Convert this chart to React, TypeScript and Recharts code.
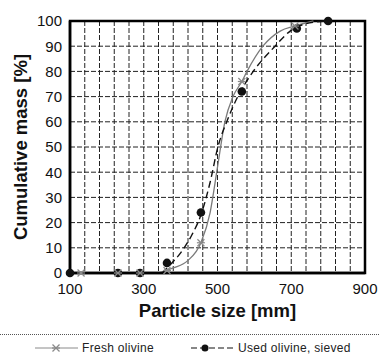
import {
  ComposedChart,
  Line,
  Scatter,
  XAxis,
  YAxis,
  CartesianGrid,
  ReferenceArea,
  Legend,
} from "recharts";

// markers (sieve sizes)
const freshX = [130, 230, 290, 363, 455, 566, 710];
const freshY = [0, 0, 0, 1, 12, 76, 98];
const usedX = [100, 230, 290, 363, 455, 566, 715, 800];
const usedY = [0, 0, 0, 4, 24, 72, 97, 100];

// fitted curves
const freshFitX = [340, 380, 420, 455, 480, 500, 520, 542, 566, 580, 623, 670, 710, 760];
const freshFitY = [0, 2, 5, 12, 24, 42, 60, 70, 76, 80, 90, 96, 98, 100];
const usedFitX = [350, 370, 400, 430, 455, 480, 501, 525, 555, 566, 597, 656, 697, 720, 790];
const usedFitY = [0, 3, 8, 15, 23, 36, 50, 60, 70, 73, 80, 90, 96, 98, 100];

const xTicks = [100, 140, 180, 220, 260, 300, 340, 380, 420, 460, 500, 540, 580, 620, 660, 700, 740, 780, 820, 860, 900];
const xLabels = [100, 300, 500, 700, 900];
const yTicks = [0, 10, 20, 30, 40, 50, 60, 70, 80, 90, 100];

const zip = (xs: number[], ys: number[]) => xs.map((x, i) => ({ x, y: ys[i] }));

const fresh = zip(freshX, freshY);
const used = zip(usedX, usedY);
const freshFit = zip(freshFitX, freshFitY);
const usedFit = zip(usedFitX, usedFitY);

const FONT = "'Liberation Sans', Arial, sans-serif";

const Star = (props: any) => {
  const { cx, cy } = props;
  const r = 3.5;
  return (
    <g stroke="#8a8a8a" strokeWidth={1.2}>
      <line x1={cx - r} y1={cy - r} x2={cx + r} y2={cy + r} />
      <line x1={cx - r} y1={cy + r} x2={cx + r} y2={cy - r} />
      <line x1={cx - r - 0.5} y1={cy} x2={cx + r + 0.5} y2={cy} />
    </g>
  );
};

const Dot = (props: any) => {
  const { cx, cy } = props;
  return <circle cx={cx} cy={cy} r={4.3} fill="#111" />;
};

const LegendBox = () => (
  <div style={{ fontFamily: FONT, fontSize: 12, color: "#222", width: 379 }}>
    <div style={{ borderTop: "1px dotted #555", width: 379, marginBottom: 6 }} />
    <div style={{ display: "flex", alignItems: "center", height: 14, whiteSpace: "nowrap" }}>
      <svg width={43} height={10} style={{ marginLeft: 35 }}>
        <line x1={0} y1={5} x2={43} y2={5} stroke="#8a8a8a" strokeWidth={1} />
        <Star cx={21} cy={5} />
      </svg>
      <span style={{ marginLeft: 4, letterSpacing: 0.3 }}>Fresh olivine</span>
      <svg width={42} height={10} style={{ marginLeft: 37 }}>
        <line x1={0} y1={5} x2={42} y2={5} stroke="#111" strokeWidth={1.2} strokeDasharray="6 3" />
        <circle cx={14} cy={5} r={3.5} fill="#111" />
      </svg>
      <span style={{ marginLeft: 5, letterSpacing: 0.3 }}>Used olivine, sieved</span>
    </div>
  </div>
);

export default function App() {
  return (
    <div style={{ position: "absolute", left: 0, top: 0, width: 379, height: 355, background: "#fff" }}>
      <ComposedChart
        width={379}
        height={355}
        margin={{ top: 21, right: 14, left: 0, bottom: 0 }}
      >
        <CartesianGrid stroke="#222" strokeDasharray="5 2" strokeWidth={1} />
        <XAxis
          type="number"
          dataKey="x"
          domain={[100, 900]}
          ticks={xTicks}
          interval={0}
          tickFormatter={(v: number) => (xLabels.includes(v) ? String(v) : "")}
          tickLine={false}
          tickSize={0}
          tickMargin={10}
          axisLine={{ stroke: "#000", strokeWidth: 2.5 }}
          tick={{ fill: "#111", fontSize: 15, fontFamily: FONT }}
          height={61}
          label={{
            value: "Particle size [mm]",
            position: "insideTop",
            offset: 31,
            fill: "#111",
            fontSize: 18.5,
            fontWeight: "bold",
            fontFamily: FONT,
          }}
        />
        <YAxis
          type="number"
          dataKey="y"
          domain={[0, 100]}
          ticks={yTicks}
          interval={0}
          tickLine={false}
          tickSize={0}
          tickMargin={8}
          axisLine={{ stroke: "#000", strokeWidth: 2.5 }}
          tick={{ fill: "#111", fontSize: 15, fontFamily: FONT }}
          width={70}
          label={{
            value: "Cumulative mass [%]",
            angle: -90,
            position: "insideLeft",
            offset: 20,
            style: { textAnchor: "middle" },
            fill: "#111",
            fontSize: 18.5,
            fontWeight: "bold",
            fontFamily: FONT,
          }}
        />
        <ReferenceArea
          x1={100}
          x2={900}
          y1={0}
          y2={100}
          fill="none"
          stroke="#000"
          strokeWidth={2.5}
        />
        <Line
          data={freshFit}
          dataKey="y"
          type="monotone"
          stroke="#7a7a7a"
          strokeWidth={1.3}
          dot={false}
          isAnimationActive={false}
          legendType="none"
        />
        <Line
          data={usedFit}
          dataKey="y"
          type="monotone"
          stroke="#111"
          strokeWidth={1.4}
          strokeDasharray="7 4"
          dot={false}
          isAnimationActive={false}
          legendType="none"
        />
        <Scatter data={used} dataKey="y" shape={<Dot />} isAnimationActive={false} />
        <Scatter data={fresh} dataKey="y" shape={<Star />} isAnimationActive={false} />
        <Legend verticalAlign="bottom" align="left" content={<LegendBox />} wrapperStyle={{ left: 0, bottom: 0 }} />
      </ComposedChart>
    </div>
  );
}
